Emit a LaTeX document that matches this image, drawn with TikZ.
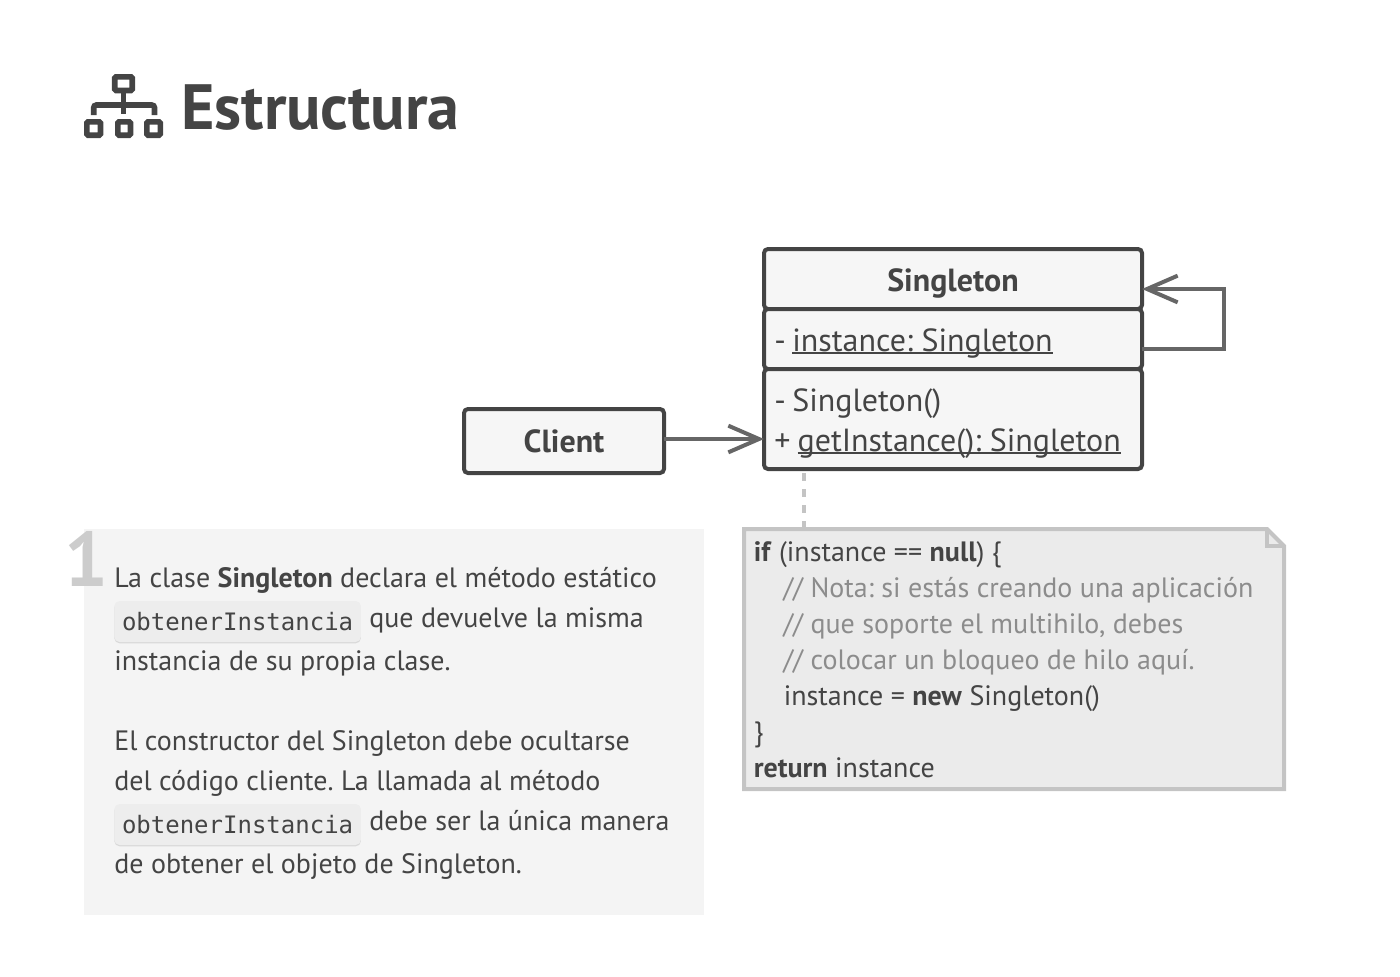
\documentclass[tikz,border=0pt]{standalone}
\usepackage{fontspec}
\usepackage{xcolor}
\usetikzlibrary{arrows.meta,positioning,shadows}
\setmainfont{PT Sans}
\newfontfamily\chipfont{DejaVu Sans Mono}
\definecolor{inkdark}{HTML}{444444}
\definecolor{linkgray}{HTML}{666666}
\definecolor{notegray}{HTML}{C4C4C4}
\newcommand{\umlunder}[1]{\setbox0\hbox{#1}\rlap{\rule[-2pt]{\wd0}{0.9pt}}\box0}
\tikzset{
    umlbox/.style={draw=inkdark, line width=3pt, fill=black!3.5, rounded corners=3pt, outer sep=0pt, minimum width=283.5pt, text=inkdark, font=\fontsize{24}{30}\selectfont\bfseries},
    umltext/.style={anchor=base west, inner sep=0pt, text=inkdark, font=\fontsize{24}{30}\selectfont},
    link/.style={draw=linkgray, line width=3pt, -{Straight Barb[length=23pt,width=20pt,line width=3pt]}},
    bodytext/.style={anchor=base west, inner sep=0pt, text=inkdark, font=\fontsize{21}{24}\selectfont},
    notetext/.style={anchor=base west, inner sep=0pt, text=inkdark, font=\fontsize{21}{24}\selectfont},
    chipbox/.style={anchor=base west, fill=black!7, rounded corners=4pt, text=inkdark, inner sep=0pt, minimum width=185pt, text height=21.75pt, text depth=9pt, font=\chipfont\fontsize{18}{24}\selectfont, drop shadow={shadow xshift=0pt, shadow yshift=-1pt, fill=black!15, opacity=1}}
}
\begin{document}
\frenchspacing
\begin{tikzpicture}[x=0.75pt, y=-0.75pt]
    \useasboundingbox (0,0) rectangle (1400,976);

    % Title with its icon
    \begin{scope}[draw=inkdark, line width=4.2pt, rounded corners=1pt]
        \draw (114.7,76.8) rectangle (132.2,90.5);
        \draw (123.5,90.5) -- (123.5,114);
        \draw[rounded corners=2pt] (93.7,115) -- (93.7,105) -- (154.5,105) -- (154.5,115);
        \draw (86.8,121.8) rectangle (100.5,135.2);
        \draw (117.8,121.8) rectangle (130.5,135.2);
        \draw (146.8,121.8) rectangle (160.3,135.2);
    \end{scope}
    \node[anchor=base west, inner sep=0pt, text=inkdark, font=\fontsize{48}{50}\selectfont\bfseries] (heading) at (181,129) {Estructura};

    % Singleton class
    \node[umlbox, minimum height=45pt, text height=18pt, text depth=0pt] (singletontitle) at (953,279) {Singleton};
    \node[umlbox, below=0pt of singletontitle, minimum height=45pt] (singletonfields) {};
    \node[umlbox, below=0pt of singletonfields, minimum height=75pt] (singletonmethods) {};
    \node[umltext] (fieldtext) at (774,351) {-\hspace{-1.5pt} \umlunder{instance: Singleton}};
    \node[umltext] (methoda) at (774,411) {-\hspace{-1.5pt} Singleton()};
    \node[umltext] (methodb) at (774,451) {+\hspace{-1pt} \umlunder{getInstance(): Singleton}};

    % Client
    \node[umlbox, minimum width=150pt, minimum height=48pt, text height=18pt, text depth=1.5pt] (client) at (564,441) {Client};

    % Connectors
    \draw[link] (client.east |- 0,439) -- (singletonmethods.west |- 0,439);
    \draw[link] ([yshift=-7.5pt]singletonfields.east) -- ++(82,0) |- ([yshift=-7.5pt]singletontitle.east);

    % Explanation panel
    \fill[black!4.5] (84,529) rectangle (704,915);
    \node[anchor=base west, inner sep=0pt, text=black!20, font=\fontsize{58}{61}\selectfont\bfseries] (stepnumber) at (64,586) {1};
    \node[bodytext] (linea) at (114,587) {La clase \textbf{Singleton} declara el método estático};
    \node[chipbox] (chipa) at (114,630) {obtenerInstancia};
    \node[bodytext] (lineb) at (369,627) {que devuelve la misma};
    \node[bodytext] (linec) at (114,670) {instancia de su propia clase.};
    \node[bodytext] (lined) at (114,750) {El constructor del Singleton debe ocultarse};
    \node[bodytext] (linee) at (114,790) {del código cliente. La llamada al método};
    \node[chipbox] (chipb) at (114,833) {obtenerInstancia};
    \node[bodytext] (linef) at (369,830) {debe ser la única manera};
    \node[bodytext] (lineg) at (114,873) {de obtener el objeto de Singleton.};

    % Pseudocode note with folded corner
    \coordinate (dashstart) at (804,473);
    \coordinate (notetop) at (804,529);
    \draw[notegray, line width=3.4pt, dash pattern=on 6pt off 6pt] (dashstart) -- (notetop);
    \draw[notegray, line width=3pt, fill=black!8, line join=miter] (744,529) -- (1267,529) -- (1284,546) -- (1284,789) -- (744,789) -- cycle;
    \draw[notegray, line width=3pt] (1267,529) -- (1267,546) -- (1284,546);
    \node[notetext] (codea) at (753.5,561) {\textbf{if} (instance == \textbf{null}) \{};
    \node[notetext, text=black!45] (codeb) at (783,597) {// Nota: si estás creando una aplicación};
    \node[notetext, text=black!45] (codec) at (783,633) {// que soporte el multihilo, debes};
    \node[notetext, text=black!45] (coded) at (783,669) {// colocar un bloqueo de hilo aquí.};
    \node[notetext] (codee) at (783.5,705) {instance = \textbf{new} Singleton()};
    \node[notetext] (codef) at (753.5,741) {\}};
    \node[notetext] (codeg) at (753.5,777) {\textbf{return} instance};
\end{tikzpicture}
\end{document}
